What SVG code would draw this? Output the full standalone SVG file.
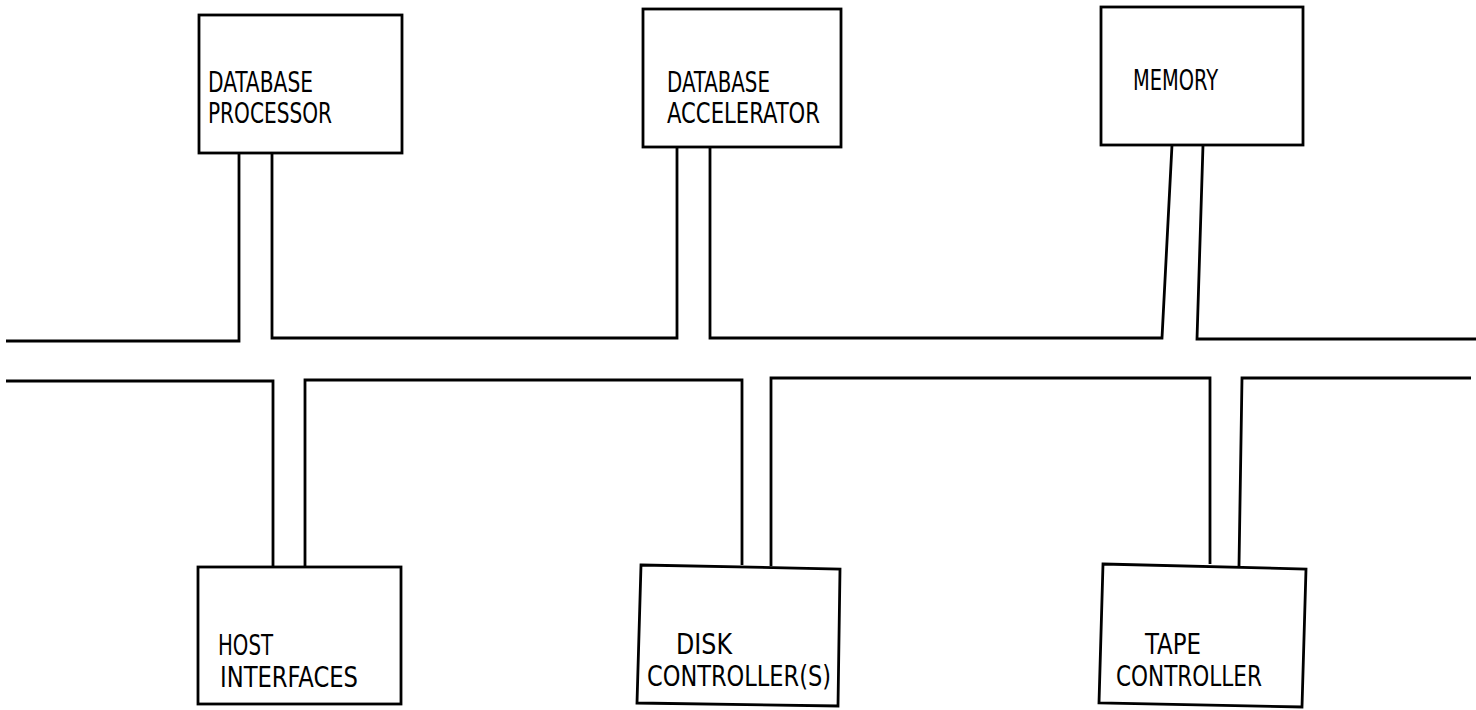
<svg xmlns="http://www.w3.org/2000/svg" width="1476" height="710" viewBox="0 0 1476 710">
<style>
.box{fill:#fff;stroke:#000;stroke-width:2.8;stroke-linejoin:miter}
.bus{fill:none;stroke:#000;stroke-width:2.8;stroke-linejoin:miter}
.lbl{font-family:"DejaVu Sans Condensed","Liberation Sans",sans-serif;font-size:28px;fill:#000}
</style>
<rect width="1476" height="710" fill="#fff"/>
<g id="connectors">
<path class="bus" d="M239,153 V341 H6"/>
<path class="bus" d="M272,153 V338 H677 V147"/>
<path class="bus" d="M710,147 V338 H1162 L1172,145"/>
<path class="bus" d="M1203,145 L1197,339 H1476"/>
<path class="bus" d="M6,381 H273 V567"/>
<path class="bus" d="M305,567 V380 H742 V565"/>
<path class="bus" d="M771,566 V378 H1210 V564"/>
<path class="bus" d="M1239,566 L1242,378 H1471"/>
</g>
<g id="database-processor">
<rect class="box" x="199" y="15" width="203" height="138"/>
<text class="lbl" x="208" y="92" textLength="105" lengthAdjust="spacingAndGlyphs">DATABASE</text>
<text class="lbl" x="208" y="123" textLength="124" lengthAdjust="spacingAndGlyphs">PROCESSOR</text>
</g>
<g id="database-accelerator">
<rect class="box" x="643" y="9" width="198" height="138"/>
<text class="lbl" x="667" y="92" textLength="103" lengthAdjust="spacingAndGlyphs">DATABASE</text>
<text class="lbl" x="667" y="123" textLength="153" lengthAdjust="spacingAndGlyphs">ACCELERATOR</text>
</g>
<g id="memory">
<rect class="box" x="1101" y="7" width="202" height="138"/>
<text class="lbl" x="1133" y="90" textLength="85" lengthAdjust="spacingAndGlyphs">MEMORY</text>
</g>
<g id="host-interfaces">
<rect class="box" x="198" y="567" width="203" height="137"/>
<text class="lbl" x="218" y="655" textLength="55" lengthAdjust="spacingAndGlyphs">HOST</text>
<text class="lbl" x="220" y="687" textLength="138" lengthAdjust="spacingAndGlyphs">INTERFACES</text>
</g>
<g id="disk-controllers">
<polygon class="box" points="641,565 840,569 838,706 637,703"/>
<text class="lbl" x="676" y="654" textLength="56" lengthAdjust="spacingAndGlyphs">DISK</text>
<text class="lbl" x="647" y="686" textLength="184" lengthAdjust="spacingAndGlyphs">CONTROLLER(S)</text>
</g>
<g id="tape-controller">
<polygon class="box" points="1103,564 1306,569 1302,707 1099,703"/>
<text class="lbl" x="1145" y="654" textLength="56" lengthAdjust="spacingAndGlyphs">TAPE</text>
<text class="lbl" x="1116" y="686" textLength="146" lengthAdjust="spacingAndGlyphs">CONTROLLER</text>
</g>
</svg>
